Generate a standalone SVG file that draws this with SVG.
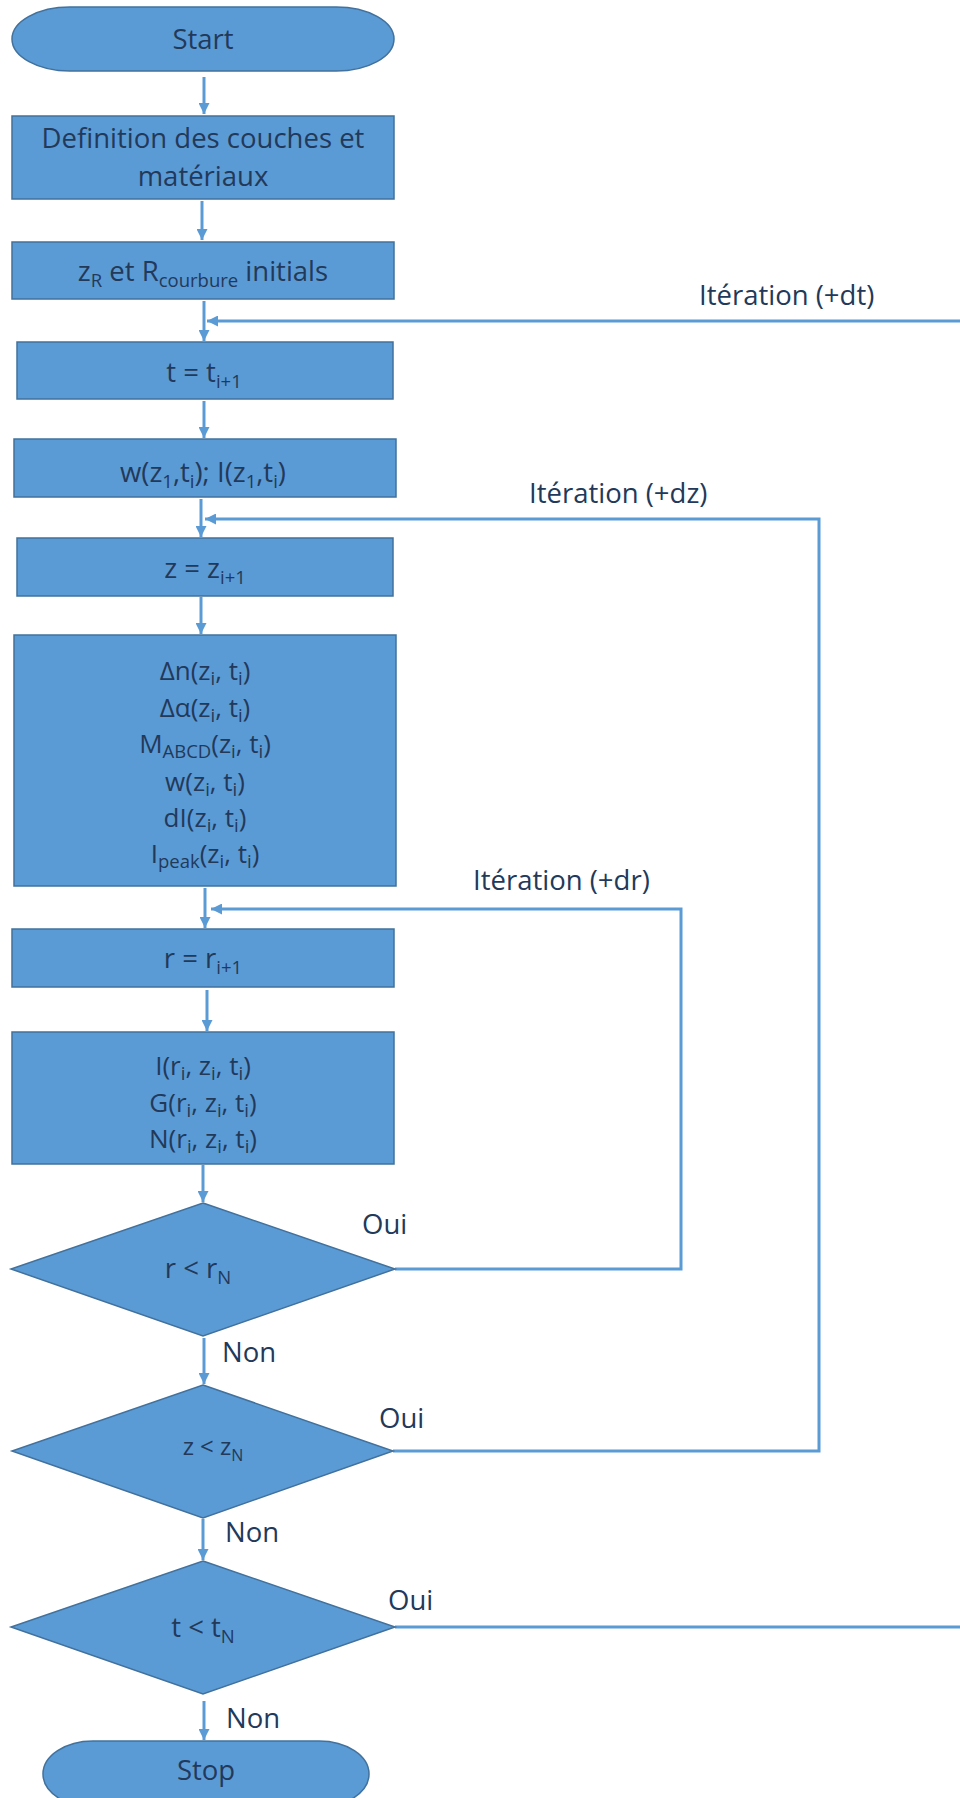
<svg xmlns="http://www.w3.org/2000/svg" width="960" height="1798" viewBox="0 0 960 1798">
<style>
.n{fill:#5B9BD5;stroke:#41719C;stroke-width:1.5}
.t{font-family:"Open Sans","Noto Sans","DejaVu Sans",sans-serif;font-size:27.5px;fill:#22395A;text-anchor:middle}
.m{font-size:26px}
.l{font-family:"Open Sans","Noto Sans","DejaVu Sans",sans-serif;font-size:27.5px;fill:#22395A}
.s{font-size:18.5px}
.c{fill:none;stroke:#5B9BD5;stroke-width:3}
</style>
<defs>
<marker id="ah" markerUnits="userSpaceOnUse" markerWidth="11" markerHeight="11" refX="11" refY="5.5" orient="auto">
<path d="M0,0 L11,5.5 L0,11 z" fill="#5B9BD5"/>
</marker>
</defs>
<rect width="960" height="1798" fill="#ffffff"/>
<g id="connectors">
<line class="c" x1="204" y1="77" x2="204" y2="114" marker-end="url(#ah)"/>
<line class="c" x1="202" y1="201" x2="202" y2="240" marker-end="url(#ah)"/>
<line class="c" x1="204" y1="301" x2="204" y2="341" marker-end="url(#ah)"/>
<line class="c" x1="960" y1="321" x2="207" y2="321" marker-end="url(#ah)"/>
<line class="c" x1="204" y1="401" x2="204" y2="438" marker-end="url(#ah)"/>
<line class="c" x1="201" y1="499" x2="201" y2="537" marker-end="url(#ah)"/>
<polyline class="c" points="393,1451 819,1451 819,519 205,519" marker-end="url(#ah)"/>
<line class="c" x1="201" y1="597" x2="201" y2="634" marker-end="url(#ah)"/>
<line class="c" x1="205" y1="888" x2="205" y2="928" marker-end="url(#ah)"/>
<polyline class="c" points="395,1269 681,1269 681,909 211,909" marker-end="url(#ah)"/>
<line class="c" x1="207" y1="990" x2="207" y2="1031" marker-end="url(#ah)"/>
<line class="c" x1="203" y1="1165" x2="203" y2="1202" marker-end="url(#ah)"/>
<line class="c" x1="204" y1="1338" x2="204" y2="1384" marker-end="url(#ah)"/>
<line class="c" x1="203" y1="1519" x2="203" y2="1560" marker-end="url(#ah)"/>
<line class="c" x1="395" y1="1627" x2="960" y2="1627"/>
<line class="c" x1="204" y1="1701" x2="204" y2="1740" marker-end="url(#ah)"/>
<text class="l" x="699" y="305">Itération (+dt)</text>
<text class="l" x="529" y="503">Itération (+dz)</text>
<text class="l" x="473" y="890">Itération (+dr)</text>
<text class="l" x="362" y="1234">Oui</text>
<text class="l" x="379" y="1428">Oui</text>
<text class="l" x="388" y="1610">Oui</text>
<text class="l" x="222" y="1362">Non</text>
<text class="l" x="225" y="1542">Non</text>
<text class="l" x="226" y="1728">Non</text>
</g>
<g id="start">
<rect class="n" x="12" y="7" width="382" height="64" rx="58" ry="32"/>
<text class="t" x="203" y="49">Start</text>
</g>
<g id="definition">
<rect class="n" x="12" y="116" width="382" height="83"/>
<text class="t" x="203" y="148">Definition des couches et</text>
<text class="t" x="203" y="186">matériaux</text>
</g>
<g id="initial">
<rect class="n" x="12" y="242" width="382" height="57"/>
<text class="t" x="203" y="281">z<tspan class="s" dy="6">R</tspan><tspan dy="-6"> et R</tspan><tspan class="s" dy="6">courbure</tspan><tspan dy="-6"> initials</tspan></text>
</g>
<g id="time-step">
<rect class="n" x="17" y="342" width="376" height="57"/>
<text class="t" x="204" y="382">t = t<tspan class="s" dy="6">i+1</tspan></text>
</g>
<g id="w-init">
<rect class="n" x="14" y="439" width="382" height="58"/>
<text class="t" x="203" y="482">w(z<tspan class="s" dy="6">1</tspan><tspan dy="-6">,t</tspan><tspan class="s" dy="6">i</tspan><tspan dy="-6">); I(z</tspan><tspan class="s" dy="6">1</tspan><tspan dy="-6">,t</tspan><tspan class="s" dy="6">i</tspan><tspan dy="-6">)</tspan></text>
</g>
<g id="z-step">
<rect class="n" x="17" y="538" width="376" height="58"/>
<text class="t" x="205" y="578">z = z<tspan class="s" dy="6">i+1</tspan></text>
</g>
<g id="z-compute">
<rect class="n" x="14" y="635" width="382" height="251"/>
<text class="t m" x="205" y="680">Δn(z<tspan class="s" dy="5">i</tspan><tspan dy="-5">, t</tspan><tspan class="s" dy="5">i</tspan><tspan dy="-5">)</tspan></text>
<text class="t m" x="205" y="717">Δα(z<tspan class="s" dy="5">i</tspan><tspan dy="-5">, t</tspan><tspan class="s" dy="5">i</tspan><tspan dy="-5">)</tspan></text>
<text class="t m" x="205" y="753">M<tspan class="s" dy="5">ABCD</tspan><tspan dy="-5">(z</tspan><tspan class="s" dy="5">i</tspan><tspan dy="-5">, t</tspan><tspan class="s" dy="5">i</tspan><tspan dy="-5">)</tspan></text>
<text class="t m" x="205" y="791">w(z<tspan class="s" dy="5">i</tspan><tspan dy="-5">, t</tspan><tspan class="s" dy="5">i</tspan><tspan dy="-5">)</tspan></text>
<text class="t m" x="205" y="827">dI(z<tspan class="s" dy="5">i</tspan><tspan dy="-5">, t</tspan><tspan class="s" dy="5">i</tspan><tspan dy="-5">)</tspan></text>
<text class="t m" x="205" y="863">I<tspan class="s" dy="5">peak</tspan><tspan dy="-5">(z</tspan><tspan class="s" dy="5">i</tspan><tspan dy="-5">, t</tspan><tspan class="s" dy="5">i</tspan><tspan dy="-5">)</tspan></text>
</g>
<g id="r-step">
<rect class="n" x="12" y="929" width="382" height="58"/>
<text class="t" x="203" y="968">r = r<tspan class="s" dy="6">i+1</tspan></text>
</g>
<g id="r-compute">
<rect class="n" x="12" y="1032" width="382" height="132"/>
<text class="t m" x="203" y="1075">I(r<tspan class="s" dy="5">i</tspan><tspan dy="-5">, z</tspan><tspan class="s" dy="5">i</tspan><tspan dy="-5">, t</tspan><tspan class="s" dy="5">i</tspan><tspan dy="-5">)</tspan></text>
<text class="t m" x="203" y="1112">G(r<tspan class="s" dy="5">i</tspan><tspan dy="-5">, z</tspan><tspan class="s" dy="5">i</tspan><tspan dy="-5">, t</tspan><tspan class="s" dy="5">i</tspan><tspan dy="-5">)</tspan></text>
<text class="t m" x="203" y="1148">N(r<tspan class="s" dy="5">i</tspan><tspan dy="-5">, z</tspan><tspan class="s" dy="5">i</tspan><tspan dy="-5">, t</tspan><tspan class="s" dy="5">i</tspan><tspan dy="-5">)</tspan></text>
</g>
<g id="r-test">
<polygon class="n" points="203,1203 395,1269 203,1336 11,1269"/>
<text class="t" x="198" y="1278">r &lt; r<tspan class="s" dy="6">N</tspan></text>
</g>
<g id="z-test">
<polygon class="n" points="203,1385 393,1451 203,1518 12,1451"/>
<text class="t" x="213" y="1455" style="font-size:24px">z &lt; z<tspan style="font-size:16px" dy="6">N</tspan></text>
</g>
<g id="t-test">
<polygon class="n" points="203,1561 395,1627 203,1694 11,1627"/>
<text class="t" x="203" y="1637">t &lt; t<tspan class="s" dy="6">N</tspan></text>
</g>
<g id="stop">
<rect class="n" x="43" y="1741" width="326" height="66" rx="50" ry="33"/>
<text class="t" x="206" y="1780">Stop</text>
</g>
</svg>
